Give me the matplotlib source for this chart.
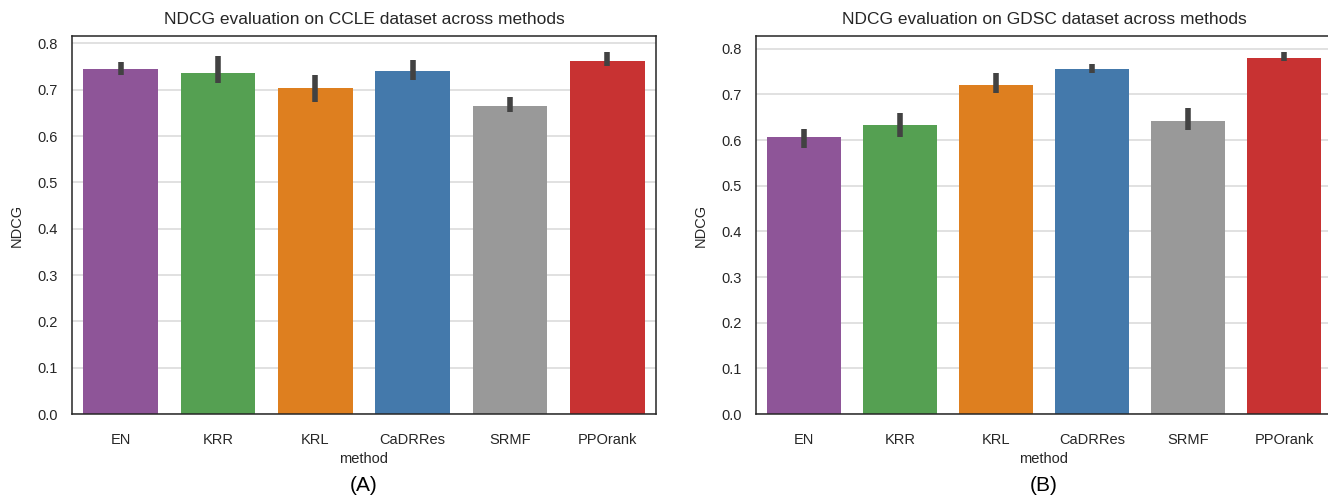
import numpy as np
import matplotlib.pyplot as plt

plt.rcParams['font.family'] = ['Liberation Sans', 'DejaVu Sans']

methods = ["EN", "KRR", "KRL", "CaDRRes", "SRMF", "PPOrank"]
colors = ["#8e5598", "#55a052", "#de7f1f", "#4479ab", "#999999", "#c83232"]

# CCLE: mean, lower and upper ends of error bar
ccle_mean = [0.744, 0.737, 0.703, 0.740, 0.665, 0.763]
ccle_lo = [0.732, 0.714, 0.673, 0.721, 0.652, 0.752]
ccle_hi = [0.760, 0.773, 0.732, 0.764, 0.684, 0.781]

# GDSC
gdsc_mean = [0.607, 0.634, 0.721, 0.755, 0.641, 0.779]
gdsc_lo = [0.582, 0.607, 0.704, 0.747, 0.623, 0.774]
gdsc_hi = [0.624, 0.659, 0.747, 0.766, 0.670, 0.792]

yticks = [0.0, 0.1, 0.2, 0.3, 0.4, 0.5, 0.6, 0.7, 0.8]


def panel(ax, mean, lo, hi, title, ytop, tag):
    x = np.arange(len(methods))
    mean = np.array(mean)
    yerr = [mean - np.array(lo), np.array(hi) - mean]
    ax.set_axisbelow(True)
    ax.grid(axis="y", color="#dcdcdc", linewidth=1.2)
    ax.bar(x, mean, width=0.77, color=colors)
    ax.errorbar(x, mean, yerr=yerr, fmt="none", ecolor="#424242",
                elinewidth=4, capsize=0)
    ax.set_xlim(-0.5, len(methods) - 0.5)
    ax.set_ylim(0, ytop)
    ax.set_yticks(yticks)
    ax.set_yticklabels([f"{v:.1f}" for v in yticks])
    ax.set_xticks(x)
    ax.set_xticklabels(methods)
    ax.tick_params(axis="x", length=0, labelsize=10.5, colors="#262626", pad=14)
    ax.tick_params(axis="y", length=0, labelsize=10.5, colors="#262626", pad=10)
    for s in ax.spines.values():
        s.set_color("#262626")
        s.set_linewidth(1.1)
    ax.set_title(title, fontsize=12.5, color="#262626", pad=9)
    ax.set_xlabel("method", fontsize=10.5, color="#262626", labelpad=3)
    ax.set_ylabel("NDCG", fontsize=10.5, color="#262626", labelpad=10)
    ax.text(0.5, -0.188, tag, transform=ax.transAxes, ha="center",
            va="center", fontsize=15)


fig = plt.figure(figsize=(13.28, 5), dpi=100)
ax1 = fig.add_axes([72 / 1328, 86 / 500, 584 / 1328, 378 / 500])
ax2 = fig.add_axes([756 / 1328, 86 / 500, 576 / 1328, 378 / 500])

panel(ax1, ccle_mean, ccle_lo, ccle_hi,
      "NDCG evaluation on CCLE dataset across methods", 0.816, "(A)")
panel(ax2, gdsc_mean, gdsc_lo, gdsc_hi,
      "NDCG evaluation on GDSC dataset across methods", 0.828, "(B)")

fig.savefig("out.png", dpi=100)
